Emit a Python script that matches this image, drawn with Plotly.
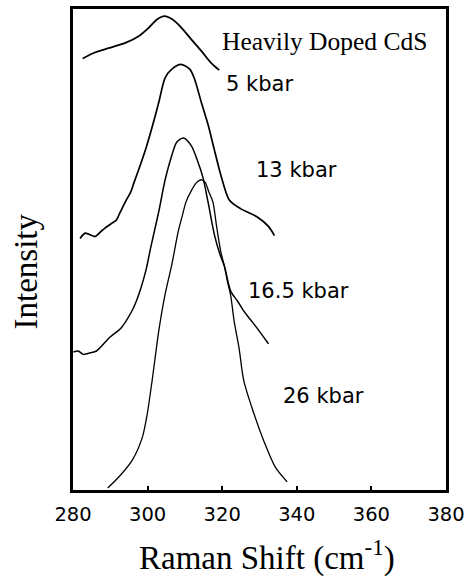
import plotly.graph_objects as go

# Raman spectra of heavily doped CdS at several pressures (arbitrary intensity units)
shift_5kbar = [282.6, 285.4, 289.8, 294.2, 297.7, 300.3, 302.5, 304.5, 306.5,
               309.1, 311.7, 314.4, 317.0, 319.2]
int_5kbar = [89.7, 90.8, 91.9, 93.0, 94.4, 96.1, 97.8, 98.5, 97.9,
             96.1, 93.7, 91.3, 88.8, 87.3]

shift_13kbar = [281.9, 283.3, 285.9, 287.7, 288.5, 290.3, 291.6, 292.5, 293.4,
                294.3, 295.5, 296.4, 297.7, 299.5, 301.2, 303.0, 304.7, 306.5,
                308.9, 311.3, 312.6, 314.4, 316.2, 317.9, 319.7, 321.9, 324.9,
                329.3, 332.4, 334.0]
int_13kbar = [52.3, 53.4, 52.7, 53.9, 54.4, 55.4, 56.1, 57.5, 58.9,
              60.3, 62.0, 64.0, 66.8, 70.9, 75.4, 80.6, 85.7, 87.5,
              88.5, 87.5, 85.4, 80.6, 76.0, 70.7, 65.3, 60.3, 58.5,
              56.8, 54.8, 52.9]

shift_16kbar = [280.1, 281.4, 282.7, 284.0, 286.3, 289.8, 292.9, 295.5, 297.0,
                299.5, 300.8, 303.0, 304.7, 306.5, 307.8, 309.6, 311.7, 313.5,
                314.8, 316.2, 317.9, 319.3, 320.6, 322.3, 324.1, 325.8, 327.5,
                329.3, 332.4]
int_16kbar = [28.7, 28.9, 28.2, 28.4, 28.9, 31.7, 33.7, 36.8, 39.3,
              45.5, 50.3, 57.9, 64.5, 69.6, 72.3, 73.2, 71.6, 68.2,
              65.1, 59.9, 53.1, 49.2, 46.5, 41.3, 39.3, 37.2, 35.5,
              33.7, 30.4]

shift_26kbar = [289.3, 292.4, 295.9, 298.6, 299.9, 301.2, 303.0, 304.7, 306.5,
                308.2, 309.3, 310.3, 311.7, 313.0, 314.4, 315.4, 316.4, 317.5,
                318.5, 319.6, 320.6, 321.4, 322.3, 323.2, 324.5, 325.8, 328.5,
                331.1, 334.2, 337.4]
int_26kbar = [0.4, 2.8, 6.2, 11.0, 15.8, 22.7, 33.1, 40.7, 46.9,
              53.7, 57.0, 59.9, 62.2, 63.8, 64.5, 64.0, 62.0, 59.9,
              54.8, 49.6, 46.5, 43.4, 40.3, 35.1, 29.6, 22.7, 15.9,
              10.3, 4.8, 1.7]

x_ticks = [280, 300, 320, 340, 360, 380]

series = [
    (shift_5kbar, int_5kbar, 1.8),
    (shift_13kbar, int_13kbar, 1.7),
    (shift_16kbar, int_16kbar, 1.5),
    (shift_26kbar, int_26kbar, 1.3),
]

fig = go.Figure()
for xs, ys, w in series:
    fig.add_trace(go.Scatter(
        x=xs, y=ys, mode="lines",
        line=dict(color="black", width=w, shape="spline", smoothing=0.8),
        showlegend=False, hoverinfo="skip",
    ))

sans = "DejaVu Sans"
serif = "Liberation Serif"

labels = [
    ("Heavily Doped CdS", 319.3, 93.2, serif, 25.5),
    ("5 kbar", 320.4, 84.5, sans, 21),
    ("13 kbar", 328.5, 66.6, sans, 21),
    ("16.5 kbar", 326.5, 41.3, sans, 21),
    ("26 kbar", 335.7, 19.6, sans, 21),
]
for text, x, y, fam, size in labels:
    fig.add_annotation(x=x, y=y, xref="x", yref="y", text=text, showarrow=False,
                       xanchor="left", yanchor="middle",
                       font=dict(family=fam, size=size, color="black"))

fig.add_annotation(x=-0.125, y=0.455, xref="paper", yref="paper", text="Intensity",
                   showarrow=False, textangle=-90, xanchor="center", yanchor="middle",
                   font=dict(family=serif, size=33, color="black"))
fig.add_annotation(x=0.52, y=-0.137, xref="paper", yref="paper",
                   text="Raman Shift (cm<sup>-1</sup>)",
                   showarrow=False, xanchor="center", yanchor="middle",
                   font=dict(family=serif, size=33, color="black"))

fig.update_xaxes(range=[280, 380], tickvals=x_ticks, ticktext=[str(v) for v in x_ticks],
                 ticks="inside", ticklen=4, tickwidth=2, tickcolor="black",
                 ticklabeloverflow="allow", ticklabelstandoff=5,
                 showline=True, linecolor="black", linewidth=2.5, mirror=True,
                 showgrid=False, zeroline=False,
                 tickfont=dict(family=sans, size=19.5, color="black"))
fig.update_yaxes(range=[0, 100], showticklabels=False, ticks="",
                 showline=True, linecolor="black", linewidth=2.5, mirror=True,
                 showgrid=False, zeroline=False)

fig.update_layout(width=471, height=579, margin=dict(l=73, r=19, t=6, b=89),
                  paper_bgcolor="white", plot_bgcolor="white")

fig.write_html("out.html")
